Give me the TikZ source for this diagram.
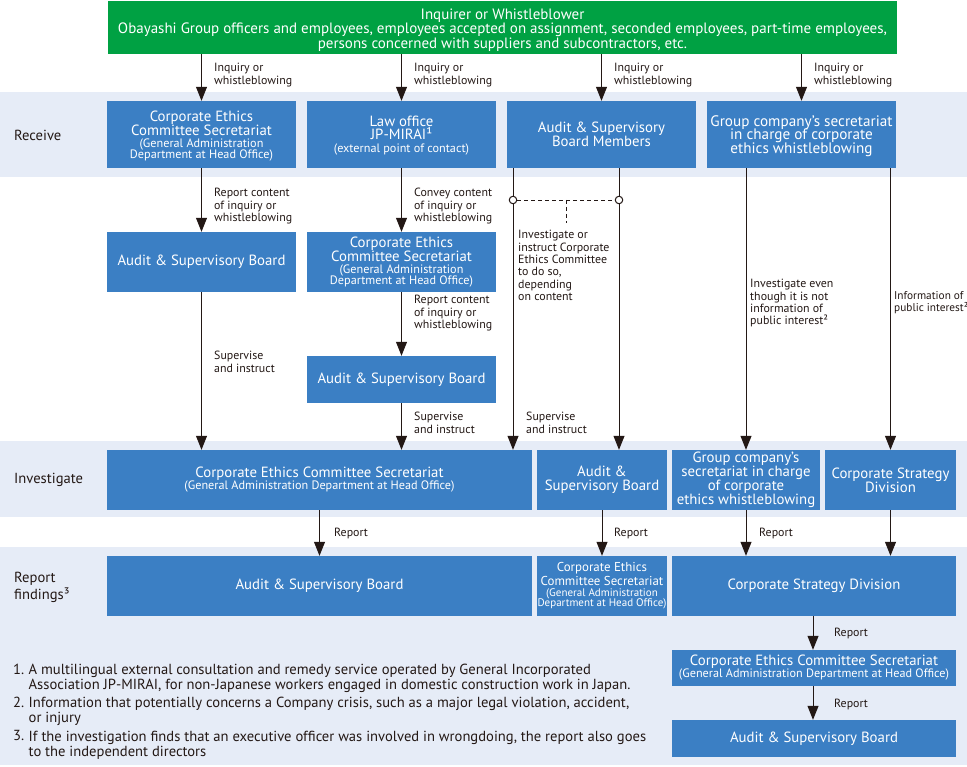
\documentclass[tikz,border=0pt]{standalone}
\usepackage{fontspec}
\setmainfont{PT Sans}
\usetikzlibrary{arrows.meta,calc}
\definecolor{boxblue}{HTML}{3B7FC4}
\definecolor{bandblue}{HTML}{E6ECF7}
\definecolor{ggreen}{HTML}{00A143}
\definecolor{txt}{HTML}{231815}
\newcommand{\tls}{\lineskiplimit=-20pt\relax}
\newcommand{\sml}[1]{{\fontsize{12.2}{12}\selectfont #1}}
\newcommand{\smlx}[1]{{\fontsize{11}{11}\selectfont #1}}
\newcommand{\fntbox}{\fontsize{14.8}{14}\selectfont\tls}
\newcommand{\fntlbl}{\fontsize{11.9}{12.4}\selectfont\tls}
\newcommand{\fntfn}{\fontsize{14.6}{15.5}\selectfont\tls}
\newcommand{\fntgreen}{\fontsize{15}{14.6}\selectfont\tls}
\newcommand{\fntgrp}{\fontsize{15.2}{13.5}\selectfont\tls}
\newcommand{\fntsq}{\fontsize{12.9}{13.5}\selectfont\tls}
\begin{document}
\begin{tikzpicture}[x=1pt,y=-1pt,
 box/.style={fill=boxblue,text=white,inner sep=0pt,align=center,font=\fntbox},
 boxtxt/.style={text=white,inner sep=0pt,align=center,font=\fntbox},
 lbl/.style={anchor=north west,align=left,inner sep=0pt,text=txt,font=\fntlbl},
 side/.style={anchor=west,align=left,inner sep=0pt,text=txt,font=\fontsize{14.6}{17}\selectfont},
 fn/.style={anchor=north west,align=left,inner sep=0pt,text=txt,font=\fntfn},
 arr/.style={draw=txt,line width=1pt,-{Triangle[width=11pt,length=14pt]}},
 dsh/.style={draw=txt,line width=0.8pt,dash pattern=on 4pt off 3pt},
 ring/.style={circle,draw=txt,fill=white,line width=1pt,inner sep=0pt,minimum size=7.5pt}
]
\useasboundingbox (0,0) rectangle (967,767);
% bands
\fill[bandblue] (0,92) rectangle (967,177);
\fill[bandblue] (0,441) rectangle (967,517);
\fill[bandblue] (0,547) rectangle (967,765);

% top
\node[fill=ggreen,minimum width=789pt,minimum height=53pt,inner sep=0pt] (g) at (502.5,27.5) {};
\node[text=white,inner sep=0pt,align=center,font=\fntgreen] (gt) at (502.5,29.8)
  {Inquirer or Whistleblower\\Obayashi Group officers and employees, employees accepted on assignment, seconded employees, part-time employees,\\persons concerned with suppliers and subcontractors, etc.};

% side labels
\node[side] (lrec) at (14,135) {Receive};
\node[side] (linv) at (14,480) {Investigate};
\node[side] (lrep) at (14,587.5) {Report\\findings³};

% receive row (boxes, then their texts)
\node[box,minimum width=189pt,minimum height=67pt] (r1) at (201.5,134.5) {};
\node[box,minimum width=189pt,minimum height=67pt] (r2) at (401.5,134.5) {};
\node[box,minimum width=189pt,minimum height=67pt] (r3) at (601.5,134.5) {};
\node[box,minimum width=189pt,minimum height=67pt] (r4) at (801.5,134.5) {};
\node[boxtxt] (r1t) at ([yshift=-1.5pt]r1.center)
  {Corporate Ethics\\Committee Secretariat\\[-2pt]\sml{(General Administration}\\[-3pt]\sml{Department at Head Office)}};
\node[boxtxt] (r2t) at ([yshift=-1.5pt]r2.center)
  {Law office\\[-1pt]JP-MIRAI¹\\[-1pt]\sml{(external point of contact)}};
\node[boxtxt] (r3t) at (r3.center) {Audit \& Supervisory\\Board Members};
\node[boxtxt,font=\fntgrp] (r4t) at ([yshift=-1.5pt]r4.center)
  {Group company’s secretariat\\in charge of corporate\\ethics whistleblowing};

% second rows
\node[box,minimum width=189pt,minimum height=60pt] (a2) at (201.5,262) {Audit \& Supervisory Board};
\node[box,minimum width=189pt,minimum height=60pt] (c2) at (401.5,262)
  {Corporate Ethics\\Committee Secretariat\\[-2pt]\sml{(General Administration}\\[-3pt]\sml{Department at Head Office)}};
\node[box,minimum width=189pt,minimum height=47pt] (a3) at (401.5,379.5) {Audit \& Supervisory Board};

% investigate row
\node[box,minimum width=425pt,minimum height=60pt] (i1) at (319.5,480)
  {Corporate Ethics Committee Secretariat\\[-2pt]\sml{(General Administration Department at Head Office)}};
\node[box,minimum width=130pt,minimum height=60pt] (i2) at (602,480) {Audit \&\\Supervisory Board};
\node[box,minimum width=148pt,minimum height=60pt] (i3) at (746,480)
  {Group company’s\\secretariat in charge\\of corporate\\ethics whistleblowing};
\node[box,minimum width=131pt,minimum height=60pt] (i4) at (890.5,480) {Corporate Strategy\\Division};

% report row
\node[box,minimum width=425pt,minimum height=60pt] (f1) at (319.5,586) {Audit \& Supervisory Board};
\node[box,minimum width=130pt,minimum height=60pt,font=\fntsq] (f2) at (602,586)
  {Corporate Ethics\\Committee Secretariat\\[-2.5pt]\smlx{(General Administration}\\[-3pt]\smlx{Department at Head Office)}};
\node[box,minimum width=284pt,minimum height=60pt] (f3) at (814,586) {Corporate Strategy Division};
\node[box,minimum width=284pt,minimum height=36pt] (f4) at (814,668)
  {Corporate Ethics Committee Secretariat\\[-2pt]\sml{(General Administration Department at Head Office)}};
\node[box,minimum width=284pt,minimum height=37pt] (f5) at (814,738.5) {Audit \& Supervisory Board};

% arrows from top
\foreach \r in {r1,r2,r3,r4} \draw[arr] (\r.north |- g.south) -- (\r.north);
\node[lbl] (q1) at (214,63) {Inquiry or\\whistleblowing};
\node[lbl] (q2) at (414,63) {Inquiry or\\whistleblowing};
\node[lbl] (q3) at (614,63) {Inquiry or\\whistleblowing};
\node[lbl] (q4) at (814,63) {Inquiry or\\whistleblowing};

% receive -> second rows
\draw[arr] (r1.south) -- (a2.north);
\node[lbl] (t1) at (214,188) {Report content\\of inquiry or\\whistleblowing};
\draw[arr] (r2.south) -- (c2.north);
\node[lbl] (t2) at (414,188) {Convey content\\of inquiry or\\whistleblowing};
\draw[arr] (c2.south) -- (a3.north);
\node[lbl] (t3) at (414,295) {Report content\\of inquiry or\\whistleblowing};
\draw[arr] (a2.south) -- (a2.south |- i1.north);
\node[lbl] (t4) at (214,351) {Supervise\\and instruct};
\draw[arr] (a3.south) -- (a3.south |- i1.north);
\node[lbl] (t5) at (414,412) {Supervise\\and instruct};

% audit board members lines
\coordinate (p1) at ([xshift=-88.5pt]r3.south);
\coordinate (p2) at ([xshift=17.5pt]r3.south);
\coordinate (lvl) at (0,200);
\draw[arr] (p1) -- (p1 |- i1.north);
\draw[arr] (p2) -- (p2 |- i2.north);
\node[ring] (k1) at (p1 |- lvl) {};
\node[ring] (k2) at (p2 |- lvl) {};
\draw[dsh] (k1) -- (k2);
\draw[dsh] ($(k1)!0.5!(k2)$) -- ++(0,23);
\node[lbl] (t6) at (518,230) {Investigate or\\instruct Corporate\\Ethics Committee\\to do so,\\depending\\on content};
\node[lbl] (t7) at (526,412) {Supervise\\and instruct};

% group company lines
\draw[arr] (i3.north |- r4.south) -- (i3.north);
\draw[arr] (i4.north |- r4.south) -- (i4.north);
\node[lbl] (t8) at (750,279) {Investigate even\\though it is not\\information of\\public interest²};
\node[lbl,font=\fontsize{11.3}{12.4}\selectfont\tls] (t9) at (894,291) {Information of\\public interest²};

% investigate -> report
\draw[arr] (i1.south) -- (f1.north);
\node[lbl] (u1) at (334,528) {Report};
\draw[arr] (i2.south) -- (f2.north);
\node[lbl] (u2) at (614,528) {Report};
\draw[arr] (i3.south) -- (i3.south |- f3.north);
\node[lbl] (u3) at (759,528) {Report};
\draw[arr] (i4.south) -- (i4.south |- f3.north);
\draw[arr] ([xshift=-1pt]f3.south) -- ([xshift=-1pt]f4.north);
\node[lbl] (u4) at (834,628) {Report};
\draw[arr] ([xshift=-1pt]f4.south) -- ([xshift=-1pt]f5.north);
\node[lbl] (u5) at (834,699) {Report};

% footnotes
\node[fn] (n1) at (13,663.5) {1.};
\node[fn] (m1) at (28.5,663.5) {A multilingual external consultation and remedy service operated by General Incorporated\\Association JP-MIRAI, for non-Japanese workers engaged in domestic construction work in Japan.};
\node[fn] (n2) at (13,696.5) {2.};
\node[fn] (m2) at (28.5,696.5) {Information that potentially concerns a Company crisis, such as a major legal violation, accident,\\or injury};
\node[fn] (n3) at (13,730.5) {3.};
\node[fn] (m3) at (28.5,730.5) {If the investigation finds that an executive officer was involved in wrongdoing, the report also goes\\to the independent directors};
\end{tikzpicture}
\end{document}
